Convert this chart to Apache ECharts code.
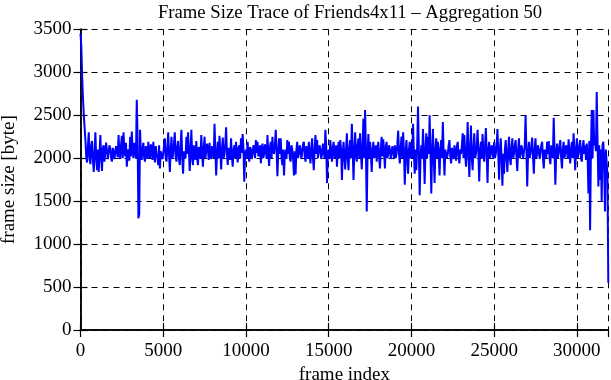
<!DOCTYPE html>
<html>
<head>
<meta charset="utf-8">
<script src="https://cdn.jsdelivr.net/npm/echarts@6/dist/echarts.min.js"></script>
<style>
  html, body { margin: 0; padding: 0; background: #fff; }
  #chart { width: 611px; height: 380px; }
</style>
</head>
<body>
<div id="chart"></div>
<script>
// trace, one value every 50 frames (aggregation 50)
var titleText = 'Frame Size Trace of Friends4x11 \u2013 Aggregation 50';
var xName = 'frame index';
var yName = 'frame size [byte]';
var frameStep = 50;
var xMax = 31900;
var yMax = 3500;
var xTickStep = 5000;
var yTickStep = 500;

var frameSize = [
  3450, 3300, 2950, 2700, 2500, 2350, 2200, 2000, 1950, 2150, 2300, 2000, 1930, 2150, 2200, 1980, 1840, 2050, 2300, 2000,
  1860, 2100, 1840, 2050, 2270, 2000, 1850, 2120, 2150, 1960, 1980, 2180, 2190, 1990, 2000, 2150, 2110, 2000, 1960, 2120,
  2080, 1990, 2000, 2140, 2130, 2010, 2270, 2050, 1990, 2150, 2260, 2000, 2300, 2100, 2020, 2180, 1900, 2060, 2100, 1970,
  2250, 2020, 2310, 2100, 2000, 2180, 2150, 2000, 2680, 2250, 1300, 1350, 2330, 2050, 1980, 2120, 2180, 2000, 1960, 2140,
  2100, 1990, 2190, 2030, 2000, 2160, 2120, 1980, 2190, 2050, 1950, 2140, 2050, 2000, 1920, 2150, 1880, 2080, 2100, 1990,
  2050, 2150, 2230, 2000, 1960, 2120, 2300, 2050, 1840, 2100, 2250, 1990, 2050, 2180, 2300, 2020, 1960, 2130, 2200, 1990,
  1920, 2150, 2330, 2000, 1820, 2080, 2100, 2000, 2250, 2050, 2300, 2100, 1850, 2050, 2330, 2000, 1920, 2150, 2050, 1980,
  2200, 2000, 1920, 2130, 2100, 1990, 2270, 2050, 1900, 2120, 2250, 2000, 2000, 2170, 2100, 1980, 2180, 2030, 1990, 2140,
  2150, 2000, 2400, 2100, 1800, 2050, 2190, 2000, 2260, 2080, 1870, 2100, 2240, 1990, 2050, 2160, 2360, 2050, 1920, 2120,
  2100, 1980, 2230, 2020, 1900, 2100, 2150, 2000, 2190, 2050, 1950, 2120, 2150, 2000, 2230, 2060, 2280, 2100, 1725, 2050,
  2100, 2000, 2190, 2040, 1960, 2130, 2100, 1990, 2050, 2150, 2120, 2000, 2210, 2060, 2190, 2020, 2000, 2150, 1940, 2100,
  2170, 2000, 2050, 2160, 2100, 1990, 2270, 2050, 1910, 2120, 2190, 2000, 2250, 2080, 2050, 2150, 2330, 2100, 1790, 2050,
  2230, 2050, 2230, 2000, 1920, 2100, 1800, 2050, 2100, 1990, 2210, 2050, 2190, 2000, 1960, 2150, 2100, 2000, 1800, 2080,
  1810, 2100, 2190, 2000, 2050, 2150, 2100, 1990, 2080, 2160, 2190, 2020, 1960, 2140, 2100, 1990, 2190, 2040, 1940, 2120,
  2230, 2000, 1860, 2100, 2270, 2050, 2210, 2000, 2000, 2150, 2100, 1990, 2050, 2170, 2150, 2000, 2330, 2150, 1710, 2050,
  2100, 1990, 2210, 2050, 1960, 2130, 2190, 2000, 2050, 2150, 1900, 2080, 2190, 2000, 2210, 2100, 1745, 2050, 2190, 2000,
  1870, 2100, 2290, 2000, 1860, 2120, 2210, 2000, 2400, 2100, 1745, 2050, 2300, 2050, 1960, 2150, 2230, 2000, 2290, 2050,
  1870, 2150, 2460, 2000, 2560, 2100, 1380, 2050, 2280, 2000, 2190, 2050, 1840, 2100, 2190, 2000, 2050, 2150, 1960, 2120,
  2190, 2000, 1880, 2100, 2250, 2020, 2220, 2050, 1880, 2140, 2190, 2000, 2050, 2150, 2100, 1990, 2000, 2140, 2080, 1990,
  2150, 2000, 2050, 2160, 2320, 2050, 1940, 2120, 2250, 2000, 2300, 2080, 1690, 2050, 2210, 2000, 1820, 2100, 2190, 2000,
  2170, 2000, 2400, 2050, 1820, 2100, 1860, 2150, 2600, 2100, 1570, 2000, 2150, 2000, 2340, 2050, 1700, 2100, 2290, 2000,
  2250, 2050, 2500, 2100, 1590, 2050, 2340, 2000, 1710, 2100, 2230, 2000, 2190, 2050, 1800, 2100, 2210, 2000, 2420, 2050,
  1800, 2100, 2100, 2000, 2050, 2150, 2210, 2020, 1940, 2120, 2100, 1990, 2150, 2050, 1970, 2140, 2190, 2020, 1940, 2100,
  2050, 2150, 2290, 2000, 2270, 2050, 1900, 2100, 2420, 2050, 1780, 2100, 2380, 2000, 1860, 2120, 2290, 2000, 2050, 2150,
  2330, 2050, 1730, 2100, 2190, 2000, 2280, 2050, 1960, 2150, 2350, 2050, 1710, 2100, 2190, 2000, 2050, 2150, 2100, 1990,
  2190, 2000, 2050, 2150, 2340, 2050, 1750, 2100, 2230, 2000, 1680, 2050, 1820, 2100, 2210, 2000, 1840, 2100, 2250, 2000,
  1920, 2120, 2230, 2000, 2050, 2150, 2210, 2000, 1850, 2100, 2230, 2000, 2050, 2150, 2100, 1990, 2000, 2150, 2500, 2100,
  1670, 2050, 2190, 2000, 2050, 2150, 2240, 2020, 1820, 2100, 2230, 2000, 2050, 2150, 2100, 1990, 2000, 2150, 2190, 2000,
  1880, 2100, 2100, 2000, 2190, 2050, 2200, 2000, 1930, 2150, 2100, 2000, 2470, 2100, 1690, 2050, 2170, 2000, 2050, 2150,
  2210, 2000, 1880, 2100, 2190, 2000, 2050, 2150, 2100, 1990, 2220, 2050, 1940, 2120, 2190, 2000, 2290, 2100, 1860, 2080,
  2230, 2000, 2050, 2150, 2210, 2000, 1960, 2130, 2210, 2050, 2150, 1980, 2170, 2000, 1590, 2200, 1160, 2100, 2560, 2000,
  2560, 2150, 2230, 2080, 2770, 2200, 1670, 2150, 1745, 2100, 1490, 2150, 2190, 1900, 1380, 2100, 2100, 1800, 550
];

var seriesData = [];
for (var i = 0; i < frameSize.length; i++) {
  seriesData.push([i * frameStep, frameSize[i]]);
}

var serif = 'Liberation Serif';
var fontSize = 19;
var axisLineStyle = { color: '#000', width: 1.5 };
var tickStyle = { color: '#000', width: 1.2 };
var gridLineStyle = { color: '#000', width: 1, type: [6, 5] };
function plain(v) { return String(v); }

var chart = echarts.init(document.getElementById('chart'));
var option = {
  animation: false,
  backgroundColor: '#fff',
  title: {
    text: titleText,
    left: 345,
    textAlign: 'center',
    top: -1,
    textStyle: { fontFamily: serif, fontSize: 18.7, fontWeight: 'normal', color: '#000' }
  },
  grid: { left: 80.5, right: 2.7, top: 29.3, bottom: 50, containLabel: false, outerBoundsMode: 'none' },
  xAxis: [
    {
      type: 'value', min: 0, max: xMax, interval: xTickStep, position: 'bottom',
      name: xName, nameLocation: 'middle', nameGap: 35,
      nameTextStyle: { fontFamily: serif, fontSize: fontSize, color: '#000' },
      axisLine: { lineStyle: axisLineStyle },
      axisTick: { inside: true, length: 7, lineStyle: tickStyle },
      axisLabel: { fontFamily: serif, fontSize: fontSize, color: '#000', margin: 12, showMaxLabel: false, formatter: plain },
      splitLine: { show: true, lineStyle: gridLineStyle }
    },
    {
      type: 'value', min: 0, max: xMax, interval: xTickStep, position: 'top',
      axisLine: { lineStyle: axisLineStyle },
      axisTick: { inside: true, length: 7, lineStyle: tickStyle },
      axisLabel: { show: false },
      splitLine: { show: false }
    }
  ],
  yAxis: [
    {
      type: 'value', min: 0, max: yMax, interval: yTickStep, position: 'left',
      name: yName, nameLocation: 'middle', nameGap: 62,
      nameTextStyle: { fontFamily: serif, fontSize: fontSize, color: '#000' },
      axisLine: { show: true, lineStyle: axisLineStyle },
      axisTick: { show: true, inside: true, length: 7, lineStyle: tickStyle },
      axisLabel: { fontFamily: serif, fontSize: fontSize, color: '#000', margin: 9, formatter: plain },
      splitLine: { show: true, lineStyle: gridLineStyle }
    },
    {
      type: 'value', min: 0, max: yMax, interval: yTickStep, position: 'right',
      axisLine: { show: true, lineStyle: axisLineStyle },
      axisTick: { show: true, inside: true, length: 7, lineStyle: tickStyle },
      axisLabel: { show: false },
      splitLine: { show: false }
    }
  ],
  series: [
    {
      type: 'line',
      xAxisIndex: 0,
      yAxisIndex: 0,
      data: seriesData,
      showSymbol: false,
      symbol: 'none',
      lineStyle: { color: '#0000ff', width: 2 },
      z: 3
    }
  ]
};
chart.setOption(option);
</script>
</body>
</html>
